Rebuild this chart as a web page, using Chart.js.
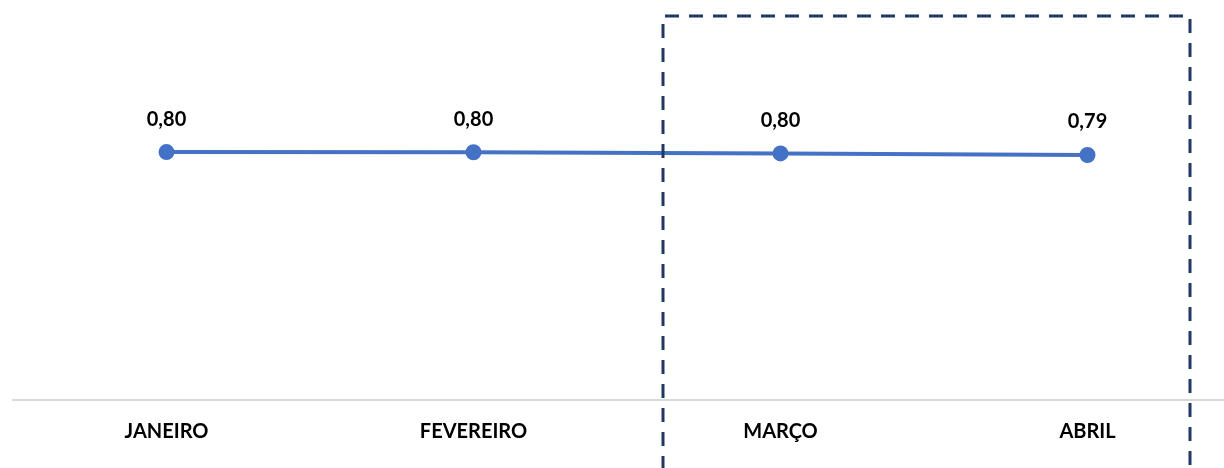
<!DOCTYPE html>
<html>
<head>
<meta charset="utf-8">
<script src="https://cdn.jsdelivr.net/npm/chart.js@4"></script>
<style>
html,body{margin:0;padding:0;background:#fff;overflow:hidden;}
#wrap{position:absolute;left:0;top:0;width:1251px;height:468px;}
</style>
</head>
<body>
<div id="wrap"><canvas id="c"></canvas></div>
<script>
const categories = ["JANEIRO", "FEVEREIRO", "MARÇO", "ABRIL"];
const values = [0.801, 0.8005, 0.7965, 0.7915];
const valueLabels = ["0,80", "0,80", "0,80", "0,79"];

const labelPlugin = {
  id: 'valueLabels',
  afterDatasetsDraw(chart) {
    const ctx = chart.ctx;
    const meta = chart.getDatasetMeta(0);
    ctx.save();
    ctx.font = 'bold 20px Lato, "Open Sans", sans-serif';
    ctx.fillStyle = '#000';
    ctx.textAlign = 'center';
    ctx.textBaseline = 'middle';
    meta.data.forEach((pt, i) => {
      ctx.fillText(valueLabels[i], pt.x, pt.y - 33);
    });
    ctx.restore();
  }
};

const boxPlugin = {
  id: 'dashBox',
  afterDraw(chart) {
    const ctx = chart.ctx;
    ctx.save();
    ctx.strokeStyle = '#203864';
    ctx.lineWidth = 3;
    ctx.setLineDash([14, 10]);
    ctx.beginPath();
    ctx.moveTo(663, 470);
    ctx.lineTo(663, 16);
    ctx.lineTo(1190, 16);
    ctx.lineTo(1190, 470);
    ctx.stroke();
    ctx.restore();
  }
};

new Chart(document.getElementById('c'), {
  type: 'line',
  data: {
    labels: categories,
    datasets: [{
      data: values,
      borderColor: '#4472c4',
      backgroundColor: '#4472c4',
      borderWidth: 4,
      pointRadius: 6,
      pointHoverRadius: 6,
      tension: 0
    }]
  },
  options: {
    responsive: true,
    maintainAspectRatio: false,
    animation: false,
    layout: { padding: { left: 13, right: 0, top: 0, bottom: 4 } },
    plugins: { legend: { display: false }, tooltip: { enabled: false } },
    scales: {
      x: {
        offset: true,
        grid: { display: false, drawTicks: false },
        border: { display: true, color: '#d9d9d9', width: 2 },
        ticks: {
          color: '#000',
          padding: 20,
          maxRotation: 0,
          font: { family: 'Lato, "Open Sans", sans-serif', size: 20, weight: 'bold' }
        }
      },
      y: {
        display: false,
        min: 0,
        max: 1.26
      }
    }
  },
  plugins: [labelPlugin, boxPlugin]
});
</script>
</body>
</html>
